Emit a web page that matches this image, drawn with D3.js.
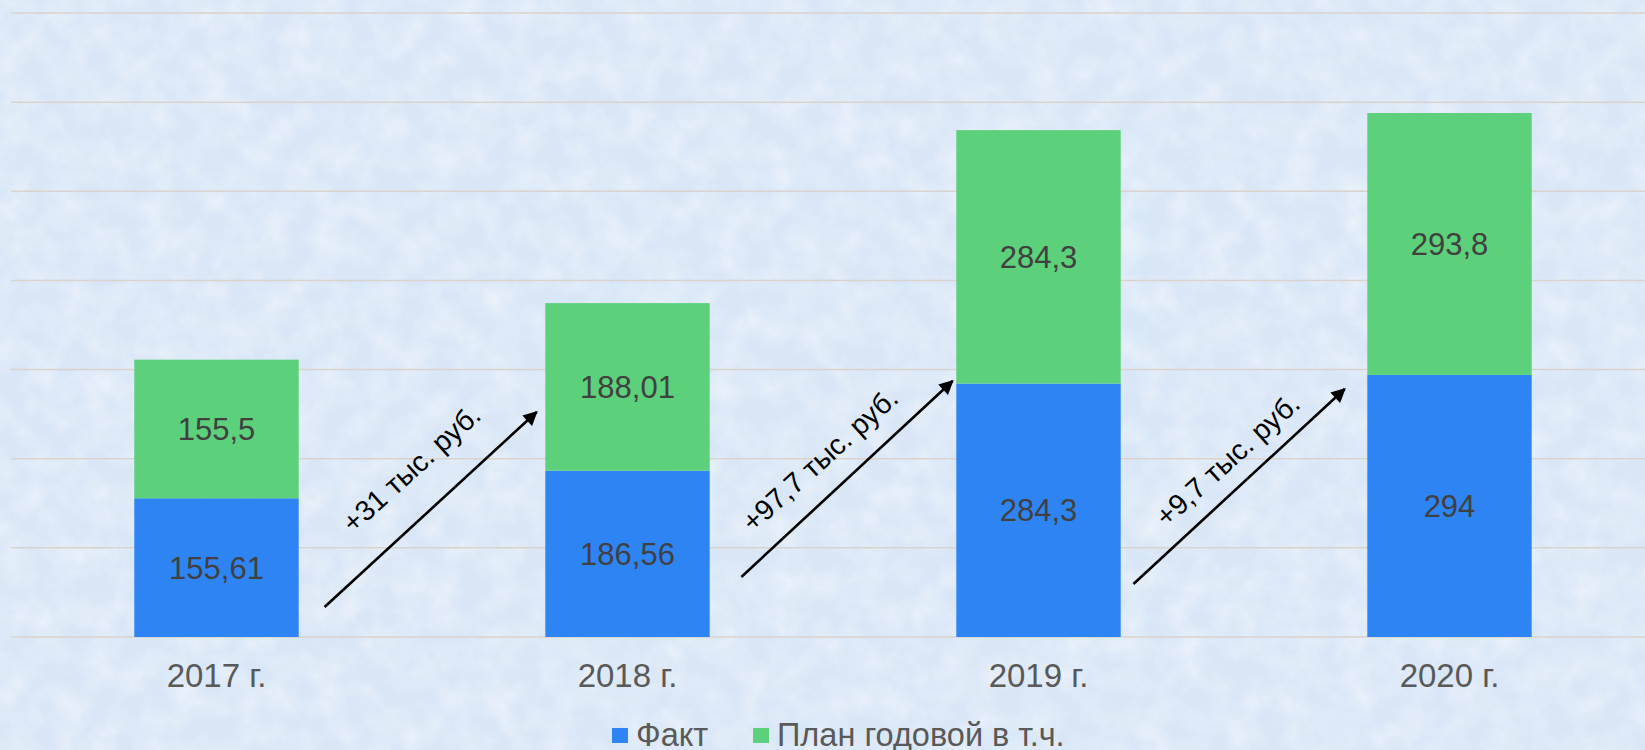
<!DOCTYPE html>
<html>
<head>
<meta charset="utf-8">
<script src="https://cdn.jsdelivr.net/npm/d3@7"></script>
<style>
  html, body { margin: 0; padding: 0; overflow: hidden; }
  svg { display: block; font-family: "Liberation Sans", Arial, sans-serif; }
</style>
</head>
<body>
<div id="chart"></div>
<script>
// data
var years = ["2017 г.", "2018 г.", "2019 г.", "2020 г."];
var fakt = [155.61, 186.56, 284.3, 294];
var plan = [155.5, 188.01, 284.3, 293.8];
var seriesNames = ["Факт", "План годовой в т.ч."];
var barLabelsFakt = ["155,61", "186,56", "284,3", "294"];
var barLabelsPlan = ["155,5", "188,01", "284,3", "293,8"];
var yTicks = [0, 100, 200, 300, 400, 500, 600, 700];

// arrows between bars (offset from bar center in steps, value)
var arrowText = ["+31 тыс. руб.", "+97,7 тыс. руб.", "+9,7 тыс. руб."];
var arrowFromT = [0.263, 0.277, 0.231];
var arrowToT = [0.779, 0.791, 0.745];
var arrowFromV = [33.7, 67.3, 59.5];
var arrowToV = [252.4, 287.2, 278.2];
var textT = [0.474, 0.468, 0.46];
var textV = [189, 199, 199];

var width = 1645, height = 750;
var colors = ["#2f84f3", "#5cd07a"];

var svg = d3.select("#chart").append("svg")
  .attr("width", width)
  .attr("height", height);

var defs = svg.append("defs");
var flt = defs.append("filter").attr("id", "paper")
  .attr("x", 0).attr("y", 0).attr("width", "100%").attr("height", "100%");
flt.append("feTurbulence")
  .attr("type", "fractalNoise")
  .attr("baseFrequency", 0.035)
  .attr("numOctaves", 4)
  .attr("seed", 7);
flt.append("feColorMatrix")
  .attr("type", "matrix")
  .attr("values", "0 0 0 0 1  0 0 0 0 1  0 0 0 0 1  1.4 0 0 0 -0.45");

defs.append("marker")
  .attr("id", "head")
  .attr("viewBox", "0 0 10 10")
  .attr("refX", 9).attr("refY", 5)
  .attr("markerWidth", 6.5).attr("markerHeight", 5.5)
  .attr("markerUnits", "strokeWidth")
  .attr("orient", "auto")
  .append("path")
  .attr("d", "M0,0 L10,5 L0,10 Z")
  .attr("fill", "#000");

// background
svg.append("rect").attr("width", width).attr("height", height).attr("fill", "#d8e6f6");
svg.append("rect").attr("width", width).attr("height", height)
  .attr("filter", "url(#paper)").attr("opacity", 0.55);

var x = d3.scaleBand()
  .domain(years)
  .range([11, 1655])
  .paddingInner(0.6)
  .paddingOuter(0.3);

var y = d3.scaleLinear()
  .domain([0, 700])
  .range([637, 13]);

var step = x.step();
function cx(i) { return x(years[i]) + x.bandwidth() / 2; }

// grid
svg.append("g").selectAll("line")
  .data(yTicks).enter()
  .append("line")
  .attr("x1", 11).attr("x2", width)
  .attr("y1", d => y(d)).attr("y2", d => y(d))
  .attr("stroke", "#d9d3ce")
  .attr("stroke-width", 1.5);

// bars
var stackData = years.map(function(yr, i) {
  return { year: yr, fakt: fakt[i], plan: plan[i], i: i };
});
var stack = d3.stack().keys(["fakt", "plan"])(stackData);

var layers = svg.append("g").selectAll("g")
  .data(stack).enter()
  .append("g")
  .attr("fill", (d, i) => colors[i]);

layers.selectAll("rect")
  .data(d => d).enter()
  .append("rect")
  .attr("x", d => x(d.data.year))
  .attr("width", x.bandwidth())
  .attr("y", d => y(d[1]))
  .attr("height", d => y(d[0]) - y(d[1]));

layers.selectAll("text")
  .data(d => d.map(function(p) { return { p: p, key: d.key }; })).enter()
  .append("text")
  .attr("x", d => x(d.p.data.year) + x.bandwidth() / 2)
  .attr("y", d => (y(d.p[0]) + y(d.p[1])) / 2)
  .attr("dy", "0.36em")
  .attr("text-anchor", "middle")
  .attr("fill", "#404040")
  .attr("font-size", "31px")
  .text(d => d.key == "fakt" ? barLabelsFakt[d.p.data.i] : barLabelsPlan[d.p.data.i]);

// x axis labels
var xAxis = d3.axisBottom(x).tickSize(0).tickPadding(0);
var gx = svg.append("g")
  .attr("transform", "translate(0,687)")
  .call(xAxis);
gx.select(".domain").remove();
gx.selectAll("text")
  .attr("dy", 0)
  .attr("fill", "#595959")
  .attr("font-size", "33px")
  .attr("font-family", "Liberation Sans, Arial, sans-serif");

// arrows
var ann = svg.append("g");
arrowText.forEach(function(t, i) {
  ann.append("line")
    .attr("x1", cx(i) + arrowFromT[i] * step)
    .attr("y1", y(arrowFromV[i]))
    .attr("x2", cx(i) + arrowToT[i] * step)
    .attr("y2", y(arrowToV[i]))
    .attr("stroke", "#000")
    .attr("stroke-width", 2.6)
    .attr("marker-end", "url(#head)");
  var tx = cx(i) + textT[i] * step, ty = y(textV[i]);
  ann.append("text")
    .attr("transform", "translate(" + tx + "," + ty + ") rotate(-42)")
    .attr("text-anchor", "middle")
    .attr("dy", "0.35em")
    .attr("fill", "#000")
    .attr("font-size", "28.5px")
    .text(t);
});

// legend
var legX = [612, 753];
var leg = svg.append("g").selectAll("g")
  .data(seriesNames).enter()
  .append("g")
  .attr("transform", (d, i) => "translate(" + legX[i] + ",0)");
leg.append("rect")
  .attr("y", 728).attr("width", 16).attr("height", 15)
  .attr("fill", (d, i) => colors[i]);
leg.append("text")
  .attr("x", 24).attr("y", 746)
  .attr("fill", "#595959")
  .attr("font-size", "32.5px")
  .text(d => d);
</script>
</body>
</html>
